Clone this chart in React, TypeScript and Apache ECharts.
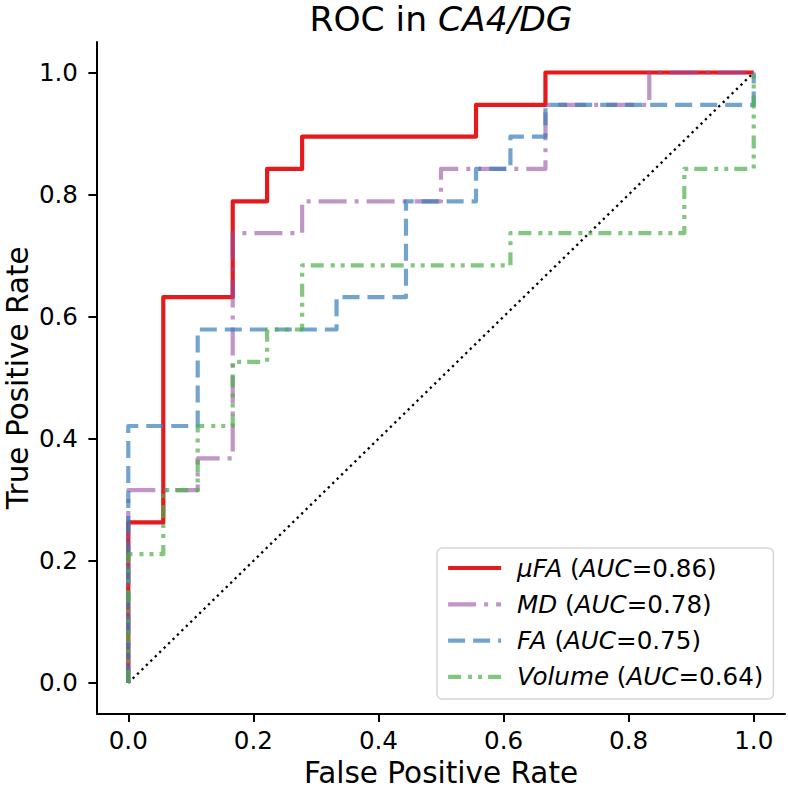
import React, { useEffect, useRef } from "react";
import * as echarts from "echarts";

const FONT = "DejaVu Sans";

// ROC corner points
const ufaFpr = [0, 0, 0.056, 0.056, 0.167, 0.167, 0.222, 0.222, 0.278, 0.278, 0.556, 0.556, 0.667, 0.667, 1.0];
const ufaTpr = [0, 0.263, 0.263, 0.632, 0.632, 0.789, 0.789, 0.842, 0.842, 0.895, 0.895, 0.947, 0.947, 1.0, 1.0];

const mdFpr = [0, 0, 0.111, 0.111, 0.167, 0.167, 0.278, 0.278, 0.5, 0.5, 0.667, 0.667, 0.833, 0.833, 1.0];
const mdTpr = [0, 0.316, 0.316, 0.368, 0.368, 0.737, 0.737, 0.789, 0.789, 0.842, 0.842, 0.947, 0.947, 1.0, 1.0];

const faFpr = [0, 0, 0.111, 0.111, 0.333, 0.333, 0.444, 0.444, 0.556, 0.556, 0.611, 0.611, 0.667, 0.667, 1.0, 1.0];
const faTpr = [0, 0.421, 0.421, 0.579, 0.579, 0.632, 0.632, 0.789, 0.789, 0.842, 0.842, 0.895, 0.895, 0.947, 0.947, 1.0];

const volFpr = [0, 0, 0.056, 0.056, 0.111, 0.111, 0.167, 0.167, 0.222, 0.222, 0.278, 0.278, 0.611, 0.611, 0.889, 0.889, 1.0, 1.0];
const volTpr = [0, 0.211, 0.211, 0.316, 0.316, 0.421, 0.421, 0.526, 0.526, 0.579, 0.579, 0.684, 0.684, 0.737, 0.737, 0.842, 0.842, 1.0];

const seriesNames = ["μFA", "MD", "FA", "Volume"];
const aucValues = ["0.86", "0.78", "0.75", "0.64"];
const chanceFpr = [0, 1];
const chanceTpr = [0, 1];
const tickValues = [0, 0.2, 0.4, 0.6, 0.8, 1.0];

const zip = (xs: number[], ys: number[]) => xs.map((x, i) => [x, ys[i]]);

export default function App() {
  const ref = useRef<HTMLDivElement>(null);
  useEffect(() => {
    document.body.style.margin = "0";
    if (!ref.current) return;
    const chart = echarts.init(ref.current, null, { renderer: "svg" });
    const lineW = 4.2;
    const tickFont = 24.6;
    const styles = [
      { color: "rgb(228,26,28)", type: "solid" as any },
      { color: "rgba(152,78,163,0.6)", type: [28, 8, 4, 8] },
      { color: "rgba(55,126,184,0.7)", type: [17, 8] },
      { color: "rgba(77,175,74,0.7)", type: [13, 7, 4, 6, 4, 6] },
    ];
    const datas = [zip(ufaFpr, ufaTpr), zip(mdFpr, mdTpr), zip(faFpr, faTpr), zip(volFpr, volTpr)];
    const axisCommon = {
      type: "value" as const,
      min: -0.05,
      max: 1.05,
      splitLine: { show: false },
      axisLine: { show: true, onZero: false, lineStyle: { color: "#000", width: 2 } },
      axisTick: { show: true, length: 8.6, lineStyle: { color: "#000", width: 2 }, customValues: tickValues },
      axisLabel: {
        customValues: tickValues,
        formatter: (v: number) => v.toFixed(1),
        fontSize: tickFont,
        fontFamily: FONT,
        color: "#000",
      },
      nameLocation: "middle" as const,
      nameMoveOverlap: false,
      nameTextStyle: { fontSize: 29.5, lineHeight: 26, fontFamily: FONT, color: "#000" },
    };
    chart.setOption({
      animation: false,
      backgroundColor: "#fff",
      title: {
        text: "ROC in {it|CA4/DG}",
        left: 441,
        top: 2,
        padding: 0,
        textAlign: "center",
        textStyle: {
          fontSize: 34.5,
          lineHeight: 34,
          fontWeight: "normal",
          fontFamily: FONT,
          color: "#000",
          rich: { it: { fontStyle: "italic", fontSize: 34.5, lineHeight: 34, fontFamily: FONT, color: "#000" } },
        },
      },
      grid: { left: 97, top: 42, right: 3, bottom: 75.5, containLabel: false, outerBoundsMode: "none" },
      xAxis: {
        ...axisCommon,
        name: "False Positive Rate",
        nameGap: 46,
        axisLabel: { ...axisCommon.axisLabel, margin: 14 },
      },
      yAxis: {
        ...axisCommon,
        name: "True Positive Rate",
        nameGap: 66,
        axisLabel: { ...axisCommon.axisLabel, margin: 19 },
      },
      legend: {
        data: seriesNames,
        orient: "vertical",
        left: 437,
        top: 548,
        padding: [7, 10, 9, 9],
        itemWidth: 53,
        itemHeight: 26,
        itemGap: 10.3,
        backgroundColor: "rgba(255,255,255,0.8)",
        borderColor: "#d6d6d6",
        borderWidth: 1.5,
        borderRadius: 5,
        itemStyle: { opacity: 0 },
        lineStyle: { width: lineW },
        formatter: (name: string) => {
          const i = seriesNames.indexOf(name);
          return `{it|${name}} ({it|AUC}=${aucValues[i]})`;
        },
        textStyle: {
          fontSize: tickFont,
          lineHeight: 26,
          fontFamily: FONT,
          color: "#000",
          padding: [0, 0, 0, 11],
          rich: {
            it: { fontStyle: "italic", fontSize: tickFont, lineHeight: 26, fontFamily: FONT, color: "#000" },
          },
        },
      },
      series: [
        ...seriesNames.map((name, i) => ({
          name,
          type: "line",
          data: datas[i],
          symbol: "none",
          showSymbol: false,
          silent: true,
          lineStyle: { color: styles[i].color, width: lineW, type: styles[i].type, cap: "butt", join: "round" },
          itemStyle: { color: styles[i].color, opacity: 0 },
          z: 3 + i,
        })),
        {
          name: "chance",
          type: "line",
          data: zip(chanceFpr, chanceTpr),
          symbol: "none",
          silent: true,
          lineStyle: { color: "#000", width: 2.3, type: [2.3, 3.9] },
          z: 2,
        },
      ],
    });
    return () => chart.dispose();
  }, []);
  return <div ref={ref} style={{ width: 788, height: 789 }} />;
}
